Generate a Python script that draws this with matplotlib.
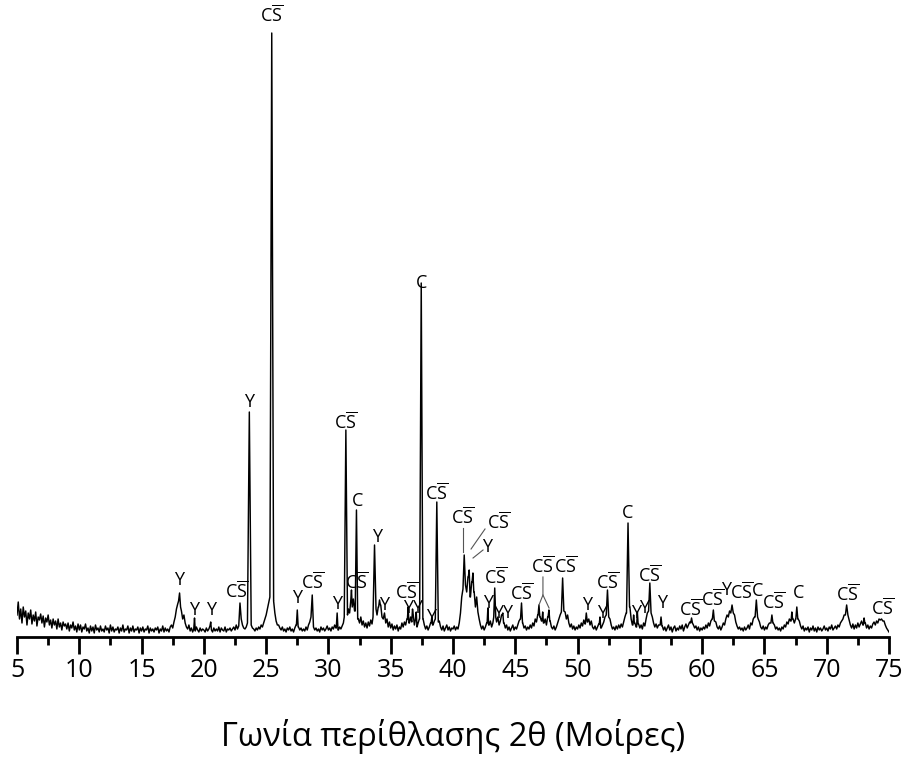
import numpy as np
import matplotlib
matplotlib.use("Agg")
import matplotlib.pyplot as plt
from matplotlib.ticker import MultipleLocator

plt.rcParams['font.family'] = ['Open Sans', 'DejaVu Sans']
plt.rcParams['mathtext.fontset'] = 'custom'
plt.rcParams['mathtext.rm'] = 'Open Sans'

# --- background / noise, one row per degree, step 0.1 deg (5.0 ... 75.0) ---
background = [
    22, 35, 18, 28, 14, 30, 20, 26, 12, 24,   # 5
    18, 27, 13, 22, 16, 25, 11, 20, 17, 23,   # 6
    14, 21, 10, 19, 15, 22, 12, 17, 9, 18,    # 7
    12, 16, 8, 18, 10, 14, 7, 15, 11, 13,     # 8
    8, 14, 6, 12, 9, 15, 7, 11, 5, 13,        # 9
    7, 12, 5, 10, 8, 13, 6, 9, 4, 11,         # 10
    6, 10, 4, 12, 7, 9, 5, 11, 6, 8,          # 11
    5, 11, 7, 9, 4, 12, 6, 10, 5, 8,          # 12
    7, 10, 4, 9, 6, 12, 5, 8, 7, 11,          # 13
    4, 9, 6, 11, 5, 8, 7, 10, 4, 9,           # 14
    6, 10, 5, 8, 7, 11, 4, 9, 6, 8,           # 15
    5, 9, 7, 10, 4, 8, 6, 11, 5, 9,           # 16
    6, 8, 5, 10, 12, 9, 15, 20, 28, 33,       # 17
    36, 30, 26, 18, 22, 14, 10, 8, 12, 6,     # 18
    9, 5, 8, 6, 10, 7, 5, 9, 6, 8,            # 19
    7, 5, 9, 6, 8, 11, 7, 5, 9, 6,            # 20
    8, 6, 10, 5, 9, 7, 6, 10, 5, 8,           # 21
    7, 9, 6, 8, 10, 7, 12, 8, 11, 16,         # 22
    18, 12, 9, 8, 10, 14, 16, 16, 12, 9,      # 23
    8, 6, 9, 7, 10, 8, 12, 10, 14, 18,        # 24
    22, 28, 34, 40, 40, 40, 36, 24, 16, 12,   # 25
    12, 9, 7, 10, 6, 8, 5, 9, 7, 10,          # 26
    6, 8, 5, 9, 12, 14, 10, 7, 9, 6,          # 27
    8, 6, 10, 7, 12, 15, 20, 14, 10, 7,       # 28
    9, 6, 8, 5, 10, 7, 9, 6, 8, 11,           # 29
    7, 9, 6, 10, 8, 12, 9, 14, 7, 10,         # 30
    8, 11, 14, 20, 22, 22, 28, 24, 36, 30,    # 31
    38, 26, 30, 30, 18, 14, 20, 12, 16, 10,   # 32
    14, 9, 15, 11, 17, 13, 20, 24, 28, 22,    # 33
    30, 24, 32, 20, 18, 24, 14, 18, 10, 15,   # 34
    9, 13, 7, 11, 8, 12, 6, 10, 8, 14,        # 35
    10, 15, 12, 18, 22, 14, 20, 15, 22, 12,   # 36
    18, 10, 14, 18, 20, 20, 18, 12, 8, 11,    # 37
    7, 10, 14, 9, 12, 16, 18, 18, 15, 16,     # 38
    10, 7, 11, 6, 9, 12, 7, 10, 6, 9,         # 39
    8, 11, 7, 10, 8, 14, 24, 40, 48, 50,      # 40
    52, 45, 60, 50, 40, 55, 48, 45, 30, 40,   # 41
    25, 18, 12, 8, 11, 7, 10, 14, 16, 12,     # 42
    16, 10, 14, 20, 20, 15, 20, 12, 16, 22,   # 43
    18, 14, 9, 12, 7, 10, 6, 9, 12, 7,        # 44
    10, 8, 12, 16, 18, 16, 14, 9, 11, 7,      # 45
    10, 8, 12, 9, 14, 11, 18, 15, 22, 20,     # 46
    20, 16, 18, 14, 18, 12, 20, 18, 16, 10,   # 47
    8, 11, 7, 10, 14, 18, 22, 25, 28, 26,     # 48
    25, 18, 22, 14, 10, 13, 8, 11, 7, 10,     # 49
    8, 12, 9, 14, 11, 17, 13, 16, 15, 18,     # 50
    12, 16, 10, 8, 11, 7, 10, 13, 12, 9,      # 51
    12, 15, 20, 22, 24, 20, 18, 12, 8, 10,    # 52
    7, 11, 8, 12, 9, 13, 10, 15, 20, 24,      # 53
    30, 28, 30, 18, 12, 14, 14, 10, 16, 13,   # 54
    9, 12, 8, 14, 11, 18, 24, 26, 26, 24,     # 55
    20, 14, 10, 13, 9, 12, 12, 12, 11, 7,     # 56
    10, 6, 9, 12, 7, 10, 5, 9, 11, 6,         # 57
    9, 7, 11, 8, 12, 6, 10, 13, 9, 12,        # 58
    15, 14, 14, 12, 9, 11, 7, 10, 6, 9,       # 59
    7, 10, 8, 12, 9, 14, 11, 16, 18, 18,      # 60
    16, 15, 10, 8, 11, 7, 10, 14, 12, 18,     # 61
    22, 20, 26, 24, 24, 24, 22, 15, 11, 8,    # 62
    10, 7, 9, 6, 10, 7, 9, 12, 8, 14,         # 63
    12, 18, 20, 20, 20, 18, 15, 10, 8, 11,    # 64
    7, 10, 8, 12, 14, 14, 14, 14, 12, 8,      # 65
    10, 7, 9, 6, 10, 8, 12, 10, 15, 13,       # 66
    18, 16, 16, 18, 14, 18, 18, 18, 16, 11,   # 67
    8, 11, 6, 9, 7, 10, 5, 9, 7, 11,          # 68
    6, 9, 5, 10, 7, 9, 6, 8, 11, 7,           # 69
    9, 6, 10, 8, 12, 7, 9, 11, 8, 12,         # 70
    10, 14, 16, 18, 22, 22, 22, 22, 17, 12,   # 71
    9, 13, 8, 12, 9, 14, 10, 13, 16, 12,      # 72
    12, 14, 9, 12, 8, 11, 9, 13, 15, 12,      # 73
    16, 14, 18, 17, 16, 16, 16, 12, 9, 7,     # 74
    5,                                        # 75
]

# --- peaks: position (2theta), height, half width at base ---
peak_pos = [18.05, 19.25, 20.55, 22.9, 23.65, 25.45, 27.5, 28.7, 30.7, 31.4,
            31.85, 32.25, 33.7, 34.1, 36.4, 36.75, 37.05, 37.45, 38.3, 38.7,
            40.9, 41.3, 41.6, 42.8, 43.35, 44.0, 45.5, 46.9, 47.2, 47.7,
            48.8, 50.7, 51.8, 52.4, 54.05, 54.5, 54.8, 55.8, 56.7, 59.15,
            60.9, 62.4, 64.35, 65.6, 67.2, 67.6, 71.6, 73.0, 74.4]
peak_height = [44, 19, 15, 34, 225, 604, 27, 42, 24, 207,
               47, 127, 92, 37, 30, 28, 25, 354, 20, 135,
               82, 67, 64, 29, 49, 24, 34, 32, 25, 27,
               59, 24, 20, 47, 114, 22, 25, 54, 20, 19,
               27, 32, 37, 22, 25, 30, 32, 19, 18]
peak_hw = [0.08, 0.06, 0.06, 0.1, 0.15, 0.15, 0.07, 0.1, 0.07, 0.13,
           0.06, 0.1, 0.12, 0.07, 0.06, 0.06, 0.06, 0.13, 0.06, 0.12,
           0.1, 0.07, 0.07, 0.06, 0.08, 0.06, 0.08, 0.07, 0.06, 0.07,
           0.1, 0.08, 0.06, 0.1, 0.12, 0.06, 0.06, 0.1, 0.07, 0.07,
           0.08, 0.1, 0.1, 0.08, 0.06, 0.08, 0.1, 0.06, 0.1]

# --- phase labels ---
lab_text = ['Y', 'Y', 'Y', 'CS', 'Y', 'CS', 'Y', 'CS', 'Y', 'CS',
            'C', 'CS', 'Y', 'Y', 'CS', 'YY', 'C', 'Y', 'CS', 'CS',
            'CS', 'Y', 'CS', 'Y', 'YY', 'CS', 'CS', 'CS', 'Y', 'Y',
            'CS', 'C', 'Y', 'Y', 'CS', 'Y', 'CS', 'CS', 'Y', 'CS',
            'C', 'CS', 'C', 'CS', 'CS']
lab_x = [18.0, 19.2, 20.6, 22.6, 23.6, 25.4, 27.5, 28.7, 30.7, 31.4,
         32.3, 32.3, 33.9, 34.5, 36.3, 36.8, 37.5, 38.2, 38.7, 40.8,
         43.7, 42.7, 43.4, 42.8, 44.0, 45.5, 47.2, 49.0, 50.8, 52.0,
         52.4, 54.05, 54.7, 55.35, 55.8, 56.8, 59.1, 60.85, 61.95, 63.2,
         64.45, 65.7, 67.7, 71.7, 74.5]
lab_y = [57, 27, 27, 46, 235, 622, 39, 55, 33, 215,
         136, 55, 100, 32, 45, 29, 354, 20, 144, 120,
         115, 90, 60, 34, 24, 44, 71, 71, 32, 24,
         55, 124, 24, 29, 62, 34, 28, 38, 47, 45,
         46, 35, 44, 43, 29]

# leader lines (2theta, height)
leaders = [
    ([40.80, 40.80], [109, 85]),
    ([42.57, 41.45], [108, 88]),
    ([42.41, 41.61], [87, 79]),
    ([47.22, 47.22, 46.90], [60, 42, 32]),
    ([47.22, 47.71], [42, 29]),
]

names = {'CS': r'C$\overline{\mathrm{S}}$', 'Y': 'Y', 'C': 'C', 'YY': 'YY'}

# build trace: noise grid plus peak vertices
tt = np.round(np.linspace(5, 75, len(background)), 1)
bg = np.array(background, dtype=float)
keep = np.ones(len(tt), dtype=bool)
px, py = [], []
for p, h, w in zip(peak_pos, peak_height, peak_hw):
    keep &= ~((tt > p - w) & (tt < p + w))
    il = np.argmin(np.abs(tt - (p - w)))
    ir = np.argmin(np.abs(tt - (p + w)))
    px += [p - w, p, p + w]
    py += [bg[il], h, bg[ir]]
x = np.concatenate([tt[keep], px])
y = np.concatenate([bg[keep], py])
order = np.argsort(x, kind='stable')
x, y = x[order], y[order]

fig = plt.figure(figsize=(9.09, 7.58), dpi=100)
ax = fig.add_axes([17 / 909, 121 / 758, 872 / 909, 637 / 758])
ax.plot(x, y, color='black', lw=1.05)

for t, lx, ly in zip(lab_text, lab_x, lab_y):
    ax.text(lx, ly, names[t], ha='center', va='center', fontsize=13, clip_on=False)
for lx, ly in leaders:
    ax.plot(lx, ly, color='#555555', lw=0.8)

ax.set_xlim(5, 75)
ax.set_ylim(0, 637)
for s in ['top', 'right', 'left']:
    ax.spines[s].set_visible(False)
ax.spines['bottom'].set_linewidth(2)
ax.set_yticks([])
ax.xaxis.set_major_locator(MultipleLocator(5))
ax.xaxis.set_minor_locator(MultipleLocator(2.5))
ax.tick_params(axis='x', which='major', length=12, width=2, labelsize=18, pad=3)
ax.tick_params(axis='x', which='minor', length=6, width=2)
ax.set_xlabel('Γωνία περίθλασης 2θ (Μοίρες)', fontsize=23.5, labelpad=26)

fig.savefig('out.png', dpi=100)
